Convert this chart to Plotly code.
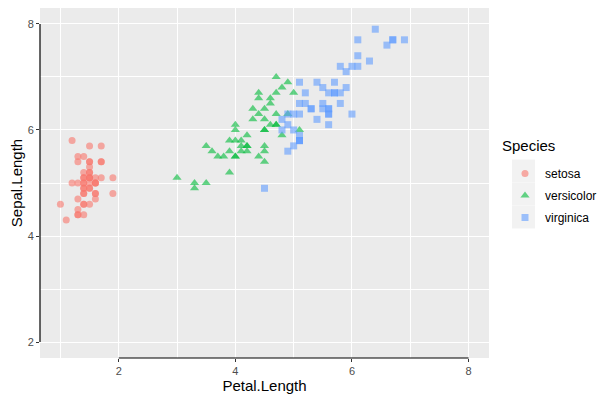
import plotly.graph_objects as go

species = ["setosa", "versicolor", "virginica"]

setosa_petal = [1.4,1.4,1.3,1.5,1.4,1.7,1.4,1.5,1.4,1.5,1.5,1.6,1.4,1.1,1.2,1.5,1.3,1.4,1.7,1.5,
                1.7,1.5,1.0,1.7,1.9,1.6,1.6,1.5,1.4,1.6,1.6,1.5,1.5,1.4,1.5,1.2,1.3,1.4,1.3,1.5,
                1.3,1.3,1.3,1.6,1.9,1.4,1.6,1.4,1.5,1.4]
setosa_sepal = [5.1,4.9,4.7,4.6,5.0,5.4,4.6,5.0,4.4,4.9,5.4,4.8,4.8,4.3,5.8,5.7,5.4,5.1,5.7,5.1,
                5.4,5.1,4.6,5.1,4.8,5.0,5.0,5.2,5.2,4.7,4.8,5.4,5.2,5.5,4.9,5.0,5.5,4.9,4.4,5.1,
                5.0,4.5,4.4,5.0,5.1,4.8,5.1,4.6,5.3,5.0]

versicolor_petal = [4.7,4.5,4.9,4.0,4.6,4.5,4.7,3.3,4.6,3.9,3.5,4.2,4.0,4.7,3.6,4.4,4.5,4.1,4.5,3.9,
                    4.8,4.0,4.9,4.7,4.3,4.4,4.8,5.0,4.5,3.5,3.8,3.7,3.9,5.1,4.5,4.5,4.7,4.4,4.1,4.0,
                    4.4,4.6,4.0,3.3,4.2,4.2,4.2,4.3,3.0,4.1]
versicolor_sepal = [7.0,6.4,6.9,5.5,6.5,5.7,6.3,4.9,6.6,5.2,5.0,5.9,6.0,6.1,5.6,6.7,5.6,5.8,6.2,5.6,
                    5.9,6.1,6.3,6.1,6.4,6.6,6.8,6.7,6.0,5.7,5.5,5.5,5.8,6.0,5.4,6.0,6.7,6.3,5.6,5.5,
                    5.5,6.1,5.8,5.0,5.6,5.7,5.7,6.2,5.1,5.7]

virginica_petal = [6.0,5.1,5.9,5.6,5.8,6.6,4.5,6.3,5.8,6.1,5.1,5.3,5.5,5.0,5.1,5.3,5.5,6.7,6.9,5.0,
                   5.7,4.9,6.7,4.9,5.7,6.0,4.8,4.9,5.6,5.8,6.1,6.4,5.6,5.1,5.6,6.1,5.6,5.5,4.8,5.4,
                   5.6,5.1,5.1,5.9,5.7,5.2,5.0,5.2,5.4,5.1]
virginica_sepal = [6.3,5.8,7.1,6.3,6.5,7.6,4.9,7.3,6.7,7.2,6.5,6.4,6.8,5.7,5.8,6.4,6.5,7.7,7.7,6.0,
                   6.9,5.6,7.7,6.3,6.7,7.2,6.2,6.1,6.4,7.2,7.4,7.9,6.4,6.3,6.1,7.7,6.3,6.4,6.0,6.9,
                   6.7,6.9,5.8,6.8,6.7,6.7,6.3,6.5,6.2,5.9]

x_ticks = [2, 4, 6, 8]
y_ticks = [2, 4, 6, 8]

colors = ["#F8766D", "#00BA38", "#619CFF"]
symbols = ["circle", "triangle-up", "square"]
sizes = [7, 8, 7]
xs = [setosa_petal, versicolor_petal, virginica_petal]
ys = [setosa_sepal, versicolor_sepal, virginica_sepal]

fig = go.Figure()
for name, x, y, c, s, sz in zip(species, xs, ys, colors, symbols, sizes):
    fig.add_trace(go.Scatter(
        x=x, y=y, mode="markers", name=name, legendgroup=name,
        marker=dict(color=c, symbol=s, size=sz, opacity=0.6, line=dict(width=0)),
    ))

# figure geometry (pixels) used to place legend decorations
W, H = 594, 388
ML, MR, MT, MB = 32, 113, 0, 38
PW, PH = W - ML - MR, H - MT - MB


def px(fx):
    return (fx - ML) / PW


def py(fy):
    return 1 - (fy - MT) / PH


font = "Liberation Sans, Arial, sans-serif"
fig.update_layout(
    width=W, height=H,
    margin=dict(l=ML, r=MR, t=MT, b=MB, autoexpand=False),
    paper_bgcolor="white", plot_bgcolor="#EBEBEB",
    font=dict(family=font, size=11, color="#4D4D4D"),
    showlegend=True,
    legend=dict(
        x=px(497), xanchor="left", y=py(151), yanchor="top",
        font=dict(size=12, color="black"),
        bgcolor="rgba(0,0,0,0)", tracegroupgap=3,
    ),
    xaxis=dict(
        range=[0.65, 8.35], tickvals=x_ticks, ticks="outside", ticklen=3,
        tickcolor="#333333", showline=False, zeroline=False, automargin=False,
        gridcolor="white", gridwidth=1.1,
        minor=dict(tickvals=[1, 3, 5, 7], showgrid=True, gridcolor="white", gridwidth=0.6, ticks=""),
        title=dict(text="Petal.Length", font=dict(size=15, color="black"), standoff=2),
        tickfont=dict(size=11, color="#4D4D4D"),
    ),
    yaxis=dict(
        range=[1.7, 8.3], tickvals=y_ticks, ticks="outside", ticklen=3,
        tickcolor="#333333", showline=False, zeroline=False, automargin=False,
        gridcolor="white", gridwidth=1.1,
        minor=dict(tickvals=[3, 5, 7], showgrid=True, gridcolor="white", gridwidth=0.6, ticks=""),
        title=dict(text="Sepal.Length", font=dict(size=15, color="black"), standoff=2),
        tickfont=dict(size=11, color="#4D4D4D"),
    ),
)

fig.add_annotation(text="Species", xref="paper", yref="paper", x=px(492), y=py(137),
                   xanchor="left", yanchor="middle", showarrow=False,
                   font=dict(size=15, color="black"))

# legend key backgrounds
for i in range(len(species)):
    cy = 163 + 23 * i
    fig.add_shape(type="rect", xref="paper", yref="paper", layer="below",
                  x0=px(504), x1=px(527), y0=py(cy - 11.5), y1=py(cy + 11.5),
                  fillcolor="#F2F2F2", line=dict(width=0))

# range-frame axis lines spanning the tick range
fig.add_shape(type="line", xref="x domain", yref="y", x0=0, x1=0,
              y0=min(y_ticks), y1=max(y_ticks), line=dict(color="black", width=1.2))
fig.add_shape(type="line", xref="x", yref="y domain", y0=0, y1=0,
              x0=min(x_ticks), x1=max(x_ticks), line=dict(color="black", width=1.2))

fig.write_html("out.html")
